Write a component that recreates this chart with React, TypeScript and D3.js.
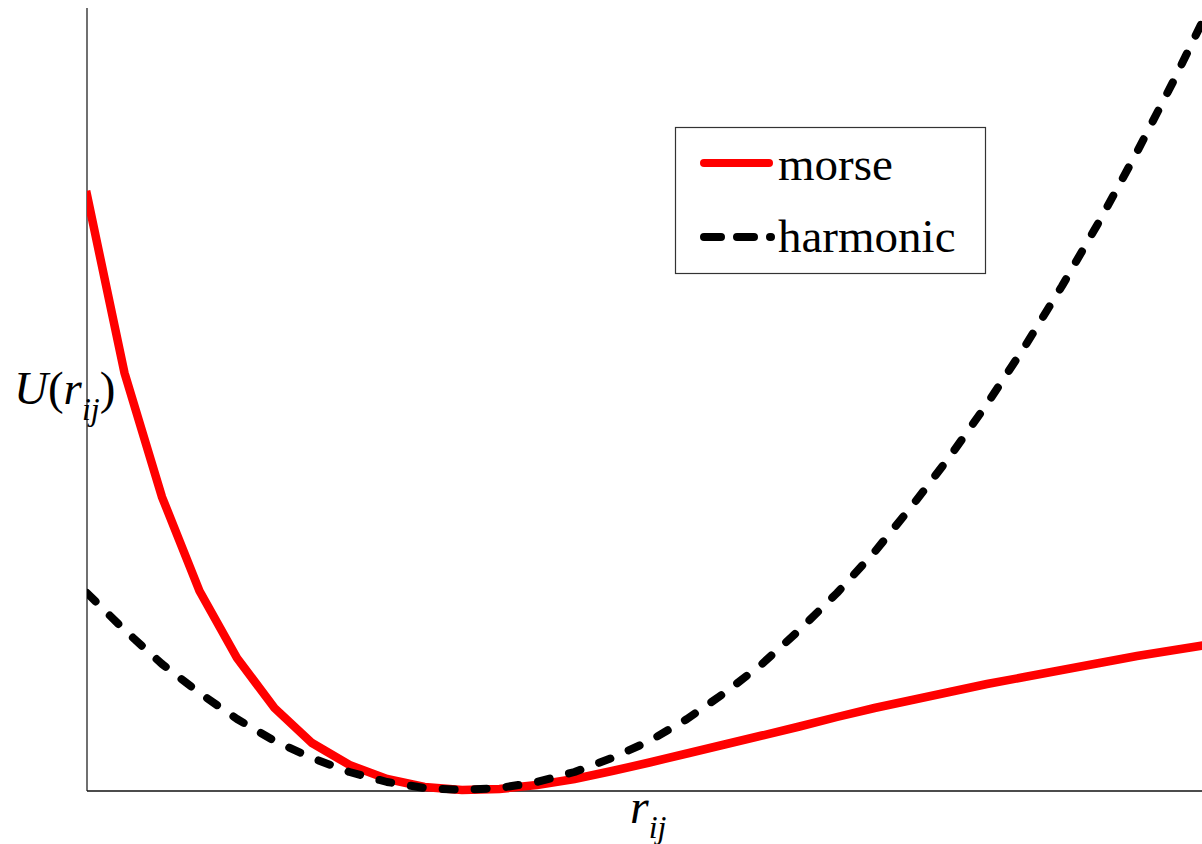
import React from 'react';
import * as d3 from 'd3';

// interatomic distance samples (arbitrary units)
const rValues = [
  0.70, 0.75, 0.80, 0.85, 0.90, 0.95, 1.00, 1.05, 1.10, 1.15,
  1.20, 1.25, 1.30, 1.35, 1.40, 1.45, 1.50, 1.55, 1.60, 1.65,
  1.70, 1.75, 1.80, 1.85, 1.90, 1.95, 2.00, 2.05, 2.10, 2.15, 2.20
];

// potential energy
const morseU = [
  5.95, 4.17, 2.93, 1.99, 1.32, 0.82, 0.47, 0.25, 0.11, 0.03,
  0.00, 0.01, 0.05, 0.11, 0.19, 0.275, 0.365, 0.455, 0.545, 0.635,
  0.73, 0.82, 0.90, 0.98, 1.06, 1.13, 1.20, 1.27, 1.34, 1.40, 1.46
];

const harmonicU = [
  1.97, 1.60, 1.26, 0.97, 0.71, 0.49, 0.32, 0.18, 0.08, 0.02,
  0.00, 0.02, 0.08, 0.18, 0.32, 0.49, 0.71, 0.97, 1.26, 1.60,
  1.97, 2.38, 2.84, 3.33, 3.86, 4.43, 5.04, 5.69, 6.38, 7.11, 7.88
];

const W = 1202;
const H = 844;
const plot = { left: 87, right: 1202, top: 8, bottom: 791 };

const serif = '"Liberation Serif", "Times New Roman", serif';

export default function App() {
  const x = d3.scaleLinear()
    .domain([rValues[0], rValues[rValues.length - 1]])
    .range([plot.left, 1212]);
  const y = d3.scaleLinear().domain([-0.01, 7.82]).range([plot.bottom, plot.top]);

  const line = d3.line<number>()
    .x((d, i) => x(rValues[i]))
    .y(d => y(d));

  return (
    <svg width={W} height={H} style={{ position: 'absolute', left: 0, top: 0, background: '#fff' }}>
      <defs>
        <clipPath id="plotclip">
          <rect x={plot.left} y={0} width={plot.right - plot.left} height={H} />
        </clipPath>
      </defs>

      {/* axes */}
      <line x1={plot.left} x2={plot.left} y1={plot.top} y2={plot.bottom} stroke="#111" strokeWidth={1.2} />
      <line x1={plot.left} x2={plot.right} y1={plot.bottom} y2={plot.bottom} stroke="#111" strokeWidth={1.6} />

      <g clipPath="url(#plotclip)">
        <path d={line(morseU) || ''} fill="none" stroke="#ff0000" strokeWidth={8.5}
          strokeLinecap="square" strokeLinejoin="miter" />
        <path d={line(harmonicU) || ''} fill="none" stroke="#000" strokeWidth={8}
          strokeDasharray="12 20" strokeLinecap="round" strokeLinejoin="round" />
      </g>

      {/* legend */}
      <rect x={675.5} y={127.5} width={310} height={146} fill="#fff" stroke="#333" strokeWidth={1.2} />
      <line x1={704} x2={769} y1={163} y2={163} stroke="#ff0000" strokeWidth={8} strokeLinecap="round" />
      <text x={778} y={180} fontFamily={serif} fontSize={47}>morse</text>
      <line x1={704} x2={771} y1={237} y2={237} stroke="#000" strokeWidth={8}
        strokeDasharray="17 16" strokeLinecap="round" />
      <text x={778} y={252} fontFamily={serif} fontSize={47}>harmonic</text>

      {/* y label */}
      <text x={14} y={404} fontFamily={serif} fontSize={47}>
        <tspan fontStyle="italic">U</tspan>
        <tspan>(</tspan>
        <tspan fontStyle="italic">r</tspan>
        <tspan fontStyle="italic" fontSize={32} dy={16}>ij</tspan>
        <tspan dy={-16}>)</tspan>
      </text>

      {/* x label */}
      <text x={630} y={823} fontFamily={serif} fontSize={48}>
        <tspan fontStyle="italic">r</tspan>
        <tspan fontStyle="italic" fontSize={32} dy={15}>ij</tspan>
      </text>
    </svg>
  );
}
